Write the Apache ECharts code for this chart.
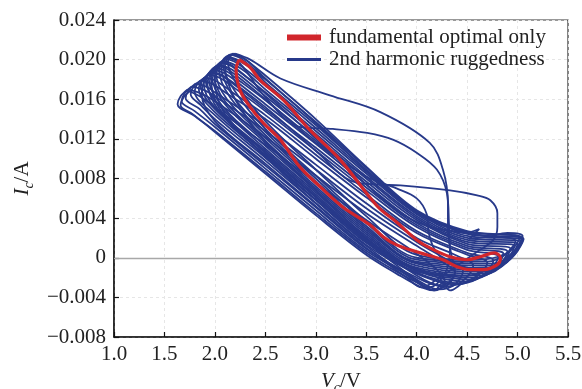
<!DOCTYPE html>
<html>
<head>
<meta charset="utf-8">
<script src="https://cdn.jsdelivr.net/npm/echarts@6/dist/echarts.min.js"></script>
<style>
  html, body { margin: 0; padding: 0; background: #fff; }
  #chart { width: 582px; height: 389px; }
</style>
</head>
<body>
<div id="chart"></div>
<script>
// axis ticks
const xTicks = [1.0, 1.5, 2.0, 2.5, 3.0, 3.5, 4.0, 4.5, 5.0, 5.5]
const yTicks = [-0.008, -0.004, 0, 0.004, 0.008, 0.012, 0.016, 0.020, 0.024]

// fundamental optimal only: [Vc, Ic]
const redLoop = [
  [2.24,0.0200],[2.35,0.0192],[2.45,0.0179],[2.68,0.0159],[2.94,0.0129],[3.24,0.0099],
  [3.61,0.0052],[3.80,0.0036],[4.00,0.0018],[4.13,0.0010],[4.33,0.0001],[4.50,-0.0002],
  [4.63,0.0001],[4.77,0.0005],[4.83,0.0000],[4.80,-0.0007],[4.66,-0.0012],[4.53,-0.0012],
  [4.40,-0.0009],[4.26,-0.0002],[4.10,0.0003],[4.00,0.0006],[3.80,0.0013],[3.67,0.0021],
  [3.54,0.0033],[3.27,0.0051],[3.05,0.0071],[2.84,0.0092],[2.65,0.0119],[2.48,0.0136],
  [2.35,0.0152],[2.25,0.0169],[2.21,0.0190],[2.24,0.0200]
]

// 2nd harmonic ruggedness loops
const loop0 = [[1.73,0.0170],[1.86,0.0166],[2.00,0.0158],[2.50,0.0122],[3.00,0.0083],[3.50,0.0045],[4.00,0.0012],[4.25,-0.0004],[4.38,-0.0015],[4.30,-0.0028],[4.15,-0.0032],[4.00,-0.0025],[3.75,-0.0011],[3.50,0.0005],[3.00,0.0045],[2.50,0.0087],[2.00,0.0128],[1.80,0.0143],[1.63,0.0155],[1.66,0.0163],[1.73,0.0170]]
const loop1 = [[1.77,0.0173],[1.90,0.0169],[2.00,0.0163],[2.50,0.0128],[3.00,0.0089],[3.50,0.0050],[4.00,0.0016],[4.30,-0.0002],[4.46,-0.0013],[4.38,-0.0027],[4.22,-0.0032],[4.00,-0.0022],[3.50,0.0007],[3.00,0.0048],[2.50,0.0090],[2.00,0.0132],[1.80,0.0148],[1.67,0.0158],[1.70,0.0166],[1.77,0.0173]]
const loop2 = [[1.81,0.0176],[1.93,0.0172],[2.00,0.0167],[2.50,0.0133],[3.00,0.0094],[3.50,0.0055],[4.00,0.0020],[4.40,0.0002],[4.56,-0.0008],[4.45,-0.0024],[4.28,-0.0029],[4.00,-0.0020],[3.50,0.0009],[3.00,0.0051],[2.50,0.0093],[2.00,0.0135],[1.85,0.0150],[1.71,0.0161],[1.74,0.0169],[1.81,0.0176]]
const loop3 = [[1.86,0.0179],[1.98,0.0175],[2.10,0.0167],[2.50,0.0140],[3.00,0.0100],[3.50,0.0061],[4.00,0.0025],[4.50,0.0003],[4.70,-0.0005],[4.58,-0.0020],[4.40,-0.0027],[4.00,-0.0016],[3.50,0.0013],[3.00,0.0055],[2.50,0.0098],[2.00,0.0140],[1.86,0.0154],[1.76,0.0165],[1.79,0.0173],[1.86,0.0179]]
const loop4 = [[1.90,0.0182],[2.02,0.0178],[2.20,0.0165],[2.50,0.0144],[3.00,0.0104],[3.50,0.0064],[4.00,0.0027],[4.50,0.0005],[4.76,-0.0003],[4.65,-0.0018],[4.45,-0.0026],[4.00,-0.0015],[3.50,0.0015],[3.00,0.0058],[2.50,0.0101],[2.00,0.0144],[1.80,0.0168],[1.83,0.0176],[1.90,0.0182]]
const loop5 = [[1.94,0.0185],[2.06,0.0181],[2.20,0.0171],[2.50,0.0148],[3.00,0.0108],[3.50,0.0068],[4.00,0.0031],[4.50,0.0008],[4.81,0.0001],[4.70,-0.0015],[4.50,-0.0024],[4.00,-0.0013],[3.50,0.0017],[3.00,0.0061],[2.50,0.0104],[2.00,0.0147],[1.84,0.0171],[1.87,0.0179],[1.94,0.0185]]
const loop6 = [[1.99,0.0190],[2.10,0.0186],[2.20,0.0179],[2.50,0.0155],[3.00,0.0115],[3.50,0.0074],[4.00,0.0035],[4.50,0.0012],[4.90,0.0006],[4.80,-0.0010],[4.60,-0.0020],[4.00,-0.0012],[3.50,0.0020],[3.00,0.0064],[2.50,0.0108],[2.00,0.0152],[1.89,0.0176],[1.92,0.0184],[1.99,0.0190]]
const loop7 = [[2.01,0.0192],[2.12,0.0188],[2.20,0.0182],[2.50,0.0159],[3.00,0.0118],[3.50,0.0077],[4.00,0.0038],[4.50,0.0014],[4.93,0.0009],[4.83,-0.0008],[4.65,-0.0018],[4.00,-0.0011],[3.50,0.0022],[3.00,0.0066],[2.50,0.0110],[2.05,0.0153],[1.91,0.0179],[1.94,0.0186],[2.01,0.0192]]
const loop8 = [[2.04,0.0195],[2.15,0.0191],[2.30,0.0180],[2.50,0.0163],[3.00,0.0122],[3.50,0.0080],[4.00,0.0040],[4.50,0.0016],[4.97,0.0012],[4.88,-0.0005],[4.70,-0.0016],[4.00,-0.0010],[3.50,0.0024],[3.00,0.0068],[2.50,0.0113],[2.10,0.0150],[1.94,0.0181],[1.97,0.0189],[2.04,0.0195]]
const loop9 = [[2.08,0.0199],[2.19,0.0195],[2.30,0.0188],[2.50,0.0170],[3.00,0.0128],[3.50,0.0085],[4.00,0.0044],[4.50,0.0020],[5.03,0.0016],[4.92,-0.0002],[4.70,-0.0012],[4.00,-0.0006],[3.50,0.0028],[3.00,0.0072],[2.50,0.0118],[2.10,0.0158],[1.99,0.0186],[2.02,0.0193],[2.08,0.0199]]
const loop10 = [[2.10,0.0201],[2.21,0.0197],[2.50,0.0174],[3.00,0.0131],[3.50,0.0087],[4.00,0.0046],[4.50,0.0022],[5.05,0.0018],[4.95,0.0001],[4.75,-0.0010],[4.00,-0.0005],[3.50,0.0030],[3.00,0.0075],[2.50,0.0121],[2.12,0.0160],[2.01,0.0188],[2.04,0.0195],[2.10,0.0201]]
const loop11 = [[2.13,0.0203],[2.24,0.0199],[2.40,0.0188],[2.50,0.0177],[3.00,0.0134],[3.50,0.0089],[4.00,0.0047],[4.50,0.0024],[5.06,0.0019],[4.97,0.0003],[4.80,-0.0008],[4.00,-0.0004],[3.50,0.0032],[3.00,0.0077],[2.50,0.0124],[2.15,0.0162],[2.04,0.0191],[2.07,0.0198],[2.13,0.0203]]
const loop12 = [[2.15,0.0205],[2.26,0.0201],[2.50,0.0180],[3.00,0.0137],[3.50,0.0091],[4.00,0.0047],[4.50,0.0026],[5.04,0.0020],[4.95,0.0005],[4.75,-0.0006],[4.00,-0.0002],[3.50,0.0035],[3.00,0.0080],[2.50,0.0127],[2.18,0.0163],[2.06,0.0194],[2.09,0.0201],[2.15,0.0205]]
const loop13 = [[2.18,0.0206],[2.29,0.0201],[2.50,0.0184],[3.00,0.0140],[3.50,0.0092],[4.00,0.0048],[4.50,0.0027],[5.02,0.0020],[4.92,0.0006],[4.70,-0.0004],[4.00,0.0000],[3.50,0.0037],[3.00,0.0083],[2.50,0.0130],[2.22,0.0165],[2.08,0.0196],[2.12,0.0203],[2.18,0.0206]]
const loop14 = [[2.21,0.0205],[2.32,0.0199],[2.50,0.0181],[3.00,0.0136],[3.50,0.0088],[4.00,0.0045],[4.50,0.0025],[4.98,0.0017],[4.88,0.0004],[4.60,-0.0002],[4.00,0.0003],[3.50,0.0042],[3.00,0.0089],[2.50,0.0138],[2.25,0.0170],[2.13,0.0198],[2.16,0.0204],[2.21,0.0205]]
const loop15 = [[1.75,0.0168],[1.85,0.0163],[2.00,0.0152],[2.50,0.0114],[3.00,0.0076],[3.50,0.0038],[4.00,0.0004],[4.20,-0.0012],[4.28,-0.0024],[4.18,-0.0033],[4.05,-0.0030],[3.80,-0.0016],[3.50,0.0003],[3.00,0.0043],[2.50,0.0085],[2.00,0.0127],[1.78,0.0145],[1.66,0.0154],[1.69,0.0162],[1.75,0.0168]]
const loop16 = [[1.96,0.0187],[2.08,0.0183],[2.50,0.0150],[3.00,0.0111],[3.50,0.0071],[4.00,0.0033],[4.50,0.0010],[4.86,0.0004],[4.76,-0.0012],[4.55,-0.0022],[4.00,-0.0012],[3.50,0.0019],[3.00,0.0062],[2.50,0.0106],[2.00,0.0150],[1.86,0.0174],[1.89,0.0181],[1.96,0.0187]]
const loop17 = [[2.06,0.0197],[2.17,0.0193],[2.50,0.0167],[3.00,0.0125],[3.50,0.0082],[4.00,0.0042],[4.50,0.0018],[5.00,0.0014],[4.90,-0.0004],[4.70,-0.0014],[4.00,-0.0008],[3.50,0.0026],[3.00,0.0070],[2.50,0.0116],[2.10,0.0155],[1.97,0.0184],[2.00,0.0191],[2.06,0.0197]]
// loops that break away from the bundle
const arcA = [[2.20,0.0206],[2.35,0.0200],[2.65,0.0181],[3.14,0.0164],[3.64,0.0147],[4.13,0.0116],[4.26,0.0089],[4.31,0.0055],[4.31,0.0028],[4.34,0.0005],[4.38,-0.0014],[4.25,-0.0028],[4.00,-0.0018],[3.50,0.0020],[3.00,0.0068],[2.50,0.0118],[2.20,0.0160],[2.10,0.0195],[2.14,0.0203],[2.20,0.0206]]
const arcB = [[2.12,0.0202],[2.25,0.0196],[2.50,0.0162],[2.84,0.0132],[3.17,0.0130],[3.51,0.0126],[3.77,0.0119],[4.00,0.0106],[4.20,0.0089],[4.30,0.0065],[4.32,0.0035],[4.33,0.0008],[4.28,-0.0016],[4.12,-0.0030],[3.95,-0.0021],[3.50,0.0012],[3.00,0.0055],[2.50,0.0102],[2.10,0.0145],[2.00,0.0180],[2.05,0.0195],[2.12,0.0202]]
const arcC = [[1.97,0.0188],[2.08,0.0184],[2.50,0.0152],[3.00,0.0108],[3.34,0.0078],[3.60,0.0074],[3.84,0.0073],[4.33,0.0068],[4.60,0.0063],[4.73,0.0058],[4.80,0.0045],[4.80,0.0031],[4.76,0.0018],[4.60,0.0006],[4.40,-0.0008],[4.20,-0.0022],[4.05,-0.0030],[3.90,-0.0020],[3.50,0.0010],[3.00,0.0052],[2.50,0.0095],[2.00,0.0138],[1.87,0.0165],[1.90,0.0180],[1.97,0.0188]]
const arcD = [[2.06,0.0198],[2.17,0.0194],[2.50,0.0166],[3.00,0.0120],[3.50,0.0074],[3.80,0.0048],[4.10,0.0032],[4.35,0.0027],[4.47,0.0025],[4.62,0.0029],[4.52,0.0019],[4.70,0.0021],[4.90,0.0025],[5.05,0.0022],[4.95,0.0004],[4.75,-0.0010],[4.50,-0.0018],[4.00,-0.0014],[3.50,0.0018],[3.00,0.0062],[2.50,0.0106],[2.05,0.0150],[1.96,0.0184],[2.00,0.0192],[2.06,0.0198]]
const arcE = [[2.02,0.0194],[2.13,0.0190],[2.50,0.0160],[3.00,0.0116],[3.50,0.0082],[3.80,0.0070],[4.00,0.0060],[4.10,0.0044],[4.12,0.0025],[4.18,0.0008],[4.30,-0.0004],[4.50,-0.0010],[4.62,-0.0016],[4.45,-0.0026],[4.33,-0.0033],[4.25,-0.0026],[4.18,-0.0033],[4.10,-0.0030],[3.95,-0.0019],[3.50,0.0016],[3.00,0.0059],[2.50,0.0103],[2.05,0.0147],[1.92,0.0182],[1.96,0.0189],[2.02,0.0194]]

const blueLoops = [loop0, loop1, loop2, loop3, loop4, loop5, loop6, loop7, loop8, loop9,
  loop10, loop11, loop12, loop13, loop14, loop15, loop16, loop17,
  arcA, arcB, arcC, arcD, arcE]

const RED = "#d1262c"
const BLUE = "#27398a"
const FONT = "'Liberation Serif', 'Times New Roman', serif"
const RED_NAME = "fundamental optimal only"
const BLUE_NAME = "2nd harmonic ruggedness"

const fmtY = (v) => {
  if (Math.abs(v) < 1e-9) return "0"
  return v.toFixed(3).replace("-", "\u2212")
}

const nameRich = {
  i: { fontFamily: FONT, fontSize: 21, fontStyle: "italic", color: "#222" },
  s: { fontFamily: FONT, fontSize: 14, fontStyle: "italic", color: "#222", padding: [14, 0, 0, 0] },
  n: { fontFamily: FONT, fontSize: 21, color: "#222" },
}

const chart = echarts.init(document.getElementById("chart"))

const series = blueLoops.map((pts, idx) => ({
  name: BLUE_NAME,
  type: "line",
  data: pts,
  smooth: 0.35,
  showSymbol: false,
  silent: true,
  itemStyle: { color: BLUE },
  lineStyle: { color: BLUE, width: 1.8 },
  z: 2,
  markLine: idx === 0 ? {
    silent: true,
    symbol: "none",
    label: { show: false },
    lineStyle: { color: "#a8a8a8", type: "solid", width: 1.3 },
    data: [{ yAxis: 0 }],
    z: 1,
  } : undefined,
}))

series.push({
  name: RED_NAME,
  type: "line",
  data: redLoop,
  smooth: 0.35,
  showSymbol: false,
  silent: true,
  itemStyle: { color: RED },
  lineStyle: { color: RED, width: 3.2 },
  z: 5,
})

chart.setOption({
  animation: false,
  backgroundColor: "#fff",
  grid: {
    left: 114,
    right: 14,
    top: 20,
    bottom: 52,
    outerBoundsMode: "none",
    containLabel: false,
    show: true,
    borderColor: "#333",
    borderWidth: 1.2,
    backgroundColor: "transparent",
  },
  legend: [
    {
      data: [RED_NAME],
      left: 287,
      top: 27,
      padding: 0,
      icon: "rect",
      itemWidth: 34,
      itemHeight: 6,
      textStyle: { fontFamily: FONT, fontSize: 21, color: "#222", padding: [0, 0, 0, 3] },
    },
    {
      data: [BLUE_NAME],
      left: 287,
      top: 49,
      padding: 0,
      icon: "rect",
      itemWidth: 34,
      itemHeight: 3,
      textStyle: { fontFamily: FONT, fontSize: 21, color: "#222", padding: [0, 0, 0, 3] },
    },
  ],
  xAxis: {
    type: "value",
    min: xTicks[0],
    max: xTicks[xTicks.length - 1],
    interval: 0.5,
    name: "{i|V}{s|c}{n|/V}",
    nameLocation: "middle",
    nameGap: 30,
    nameTextStyle: { rich: nameRich },
    axisLine: { show: true, onZero: false, lineStyle: { color: "#111", width: 1.5 } },
    axisTick: { show: true, inside: true, length: 5, lineStyle: { color: "#111", width: 1.2 } },
    axisLabel: {
      fontFamily: FONT,
      fontSize: 21,
      color: "#222",
      margin: 7,
      formatter: (v) => v.toFixed(1),
    },
    splitLine: { show: true, lineStyle: { color: "#e6e6e6", type: [3, 3], width: 1 } },
  },
  yAxis: {
    type: "value",
    min: yTicks[0],
    max: yTicks[yTicks.length - 1],
    interval: 0.004,
    name: "{i|I}{s|c}{n|/A}",
    nameLocation: "middle",
    nameRotate: 90,
    nameGap: 76,
    nameTextStyle: { rich: nameRich },
    axisLine: { show: true, onZero: false, lineStyle: { color: "#111", width: 1.5 } },
    axisTick: { show: true, inside: true, length: 5, lineStyle: { color: "#111", width: 1.2 } },
    axisLabel: {
      fontFamily: FONT,
      fontSize: 21,
      color: "#222",
      margin: 8,
      formatter: fmtY,
    },
    splitLine: { show: true, lineStyle: { color: "#e6e6e6", type: [3, 3], width: 1 } },
  },
  series,
})
</script>
</body>
</html>
